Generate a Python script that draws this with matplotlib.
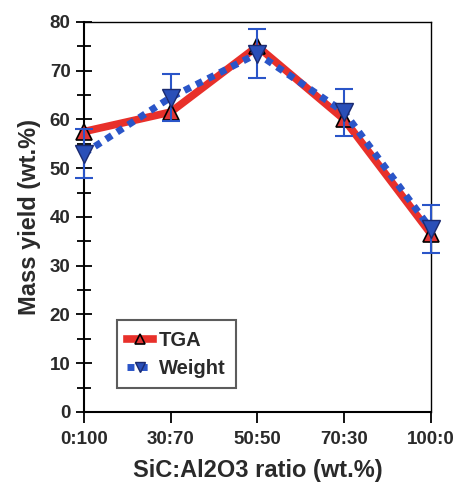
import matplotlib.pyplot as plt
from matplotlib.ticker import MultipleLocator

plt.rcParams['font.family'] = ['Liberation Sans', 'DejaVu Sans']
plt.rcParams['font.weight'] = 'bold'

ratios = ["0:100", "30:70", "50:50", "70:30", "100:0"]
tga = [57.5, 61.5, 75, 60, 36.5]
weight = [53, 64.5, 73.5, 61.5, 37.5]
weight_err = [5, 4.8, 5, 4.8, 5]

x = list(range(len(ratios)))
txt = "#2a2a2a"

fig = plt.figure(figsize=(4.58, 4.88), dpi=100)
ax = fig.add_axes([0.183, 0.156, 0.758, 0.799])

ax.plot(x, tga, color="#e8302a", lw=5.5, marker="^", ms=11,
        mfc="#e03535", mec="black", mew=1.2, label="TGA", zorder=3, clip_on=False)
ax.errorbar(x, weight, yerr=weight_err, fmt="none",
            ecolor="#2a55c8", elinewidth=1.5, capsize=6.5, capthick=1.5,
            zorder=4, clip_on=False)
ax.plot(x, weight, color="#2a55c8", lw=5, ls=(0, (1, 0.9)),
        marker="v", ms=13, mfc="#2a4fb8", mec="#1a2a70", mew=1,
        label="Weight", zorder=5, clip_on=False)

ax.set_xlim(0, 4)
ax.set_ylim(0, 80)
ax.set_xticks(x)
ax.set_xticklabels(ratios)
ax.yaxis.set_major_locator(MultipleLocator(10))
ax.yaxis.set_minor_locator(MultipleLocator(5))
ax.tick_params(axis="y", which="major", direction="inout", length=12, width=1.3,
               labelsize=13.5, colors="black", labelcolor=txt)
ax.tick_params(axis="y", which="minor", direction="inout", length=10, width=1.3)
ax.tick_params(axis="x", direction="out", length=8, width=1.3, labelsize=13.5,
               labelcolor=txt, pad=6)
for s in ["left", "bottom"]:
    ax.spines[s].set_linewidth(1.5)
for s in ["top", "right"]:
    ax.spines[s].set_linewidth(1.0)

ax.set_xlabel("SiC:Al2O3 ratio (wt.%)", fontsize=17, fontweight="bold",
              color=txt, labelpad=8)
ax.set_ylabel("Mass yield (wt.%)", fontsize=17, fontweight="bold",
              color=txt, labelpad=6)

leg = ax.legend(loc="lower left", bbox_to_anchor=(0.095, 0.062), borderaxespad=0,
                fontsize=14.5, frameon=True, fancybox=False, handlelength=1.3,
                markerscale=0.6, handletextpad=0.3, borderpad=0.5,
                labelspacing=0.45)
leg.get_frame().set_edgecolor("#333333")
leg.get_frame().set_linewidth(1.5)
for t in leg.get_texts():
    t.set_color(txt)

fig.savefig("out.png", dpi=100)
